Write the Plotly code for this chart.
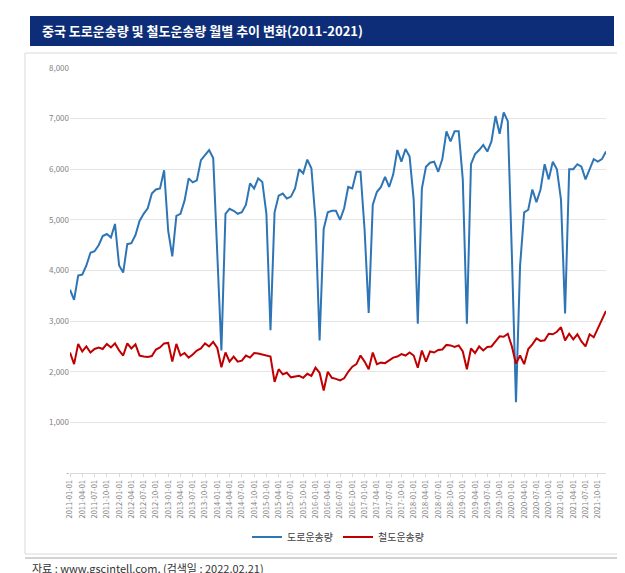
import plotly.graph_objects as go

months = [f"{y}-{m:02d}-01" for y in range(2011, 2022) for m in range(1, 13)]
road = [3620,3420,3900,3920,4100,4350,4380,4500,4680,4720,4650,4920,
        4100,3960,4520,4540,4700,4980,5120,5230,5520,5600,5620,5980,
        4780,4280,5080,5120,5380,5820,5740,5780,6180,6280,6380,6220,
        4400,2420,5120,5220,5180,5120,5150,5300,5720,5620,5820,5750,
        5120,2820,5150,5480,5520,5420,5460,5620,6000,5920,6190,6020,
        5000,2620,4820,5150,5180,5180,5000,5230,5650,5620,5950,5950,
        4800,3160,5300,5550,5650,5850,5650,5900,6380,6150,6400,6250,
        5400,2950,5620,6050,6130,6150,5950,6200,6750,6550,6750,6750,
        5800,2950,6100,6300,6380,6480,6350,6550,7050,6700,7120,6950,
        4300,1400,4100,5150,5200,5600,5350,5600,6100,5800,6150,6000,
        5400,3150,6000,6000,6100,6050,5800,6000,6200,6150,6200,6350]
rail = [2380,2150,2550,2400,2500,2380,2450,2480,2450,2550,2480,2560,
        2420,2320,2560,2460,2540,2320,2300,2290,2310,2440,2480,2560,
        2570,2200,2550,2320,2370,2280,2340,2420,2460,2560,2500,2590,
        2470,2090,2380,2200,2300,2200,2220,2320,2280,2370,2360,2340,
        2320,2300,1800,2050,1950,1980,1890,1900,1920,1880,1960,1920,
        2080,1980,1630,2000,1880,1860,1830,1870,2000,2100,2150,2320,
        2200,2050,2380,2150,2180,2170,2230,2280,2300,2350,2320,2380,
        2320,2080,2420,2200,2400,2380,2430,2440,2530,2520,2490,2520,
        2400,2050,2460,2370,2500,2420,2490,2500,2600,2700,2690,2750,
        2500,2160,2320,2150,2450,2540,2660,2610,2620,2750,2740,2790,
        2880,2620,2750,2640,2740,2600,2500,2740,2680,2850,3050,3200]
ytick_vals = [0,1000,2000,3000,4000,5000,6000,7000,8000]
ytick_text = ["-","1,000","2,000","3,000","4,000","5,000","6,000","7,000","8,000"]

L, R, T, B, W, H = 62, 27, 60, 108, 625, 573
pw, ph = W - L - R, H - T - B
def px(x): return (x - L) / pw
def py(y): return (H - B - y) / ph

fig = go.Figure()
fig.add_trace(go.Scatter(x=months, y=road, mode="lines", name="도로운송량",
                         line=dict(color="#2e75b6", width=2)))
fig.add_trace(go.Scatter(x=months, y=rail, mode="lines", name="철도운송량",
                         line=dict(color="#c00000", width=2)))
fig.update_layout(
    width=W, height=H, margin=dict(l=L, r=R, t=T, b=B, autoexpand=False),
    plot_bgcolor="white", paper_bgcolor="white",
    font=dict(family="Noto Sans CJK KR", color="#595959"),
    showlegend=True,
    legend=dict(orientation="h", x=0.5, xanchor="center", y=py(529), yanchor="middle",
                font=dict(size=10, color="#404040"), itemwidth=30, tracegroupgap=0),
    xaxis=dict(type="category", tickvals=months[::3], ticktext=months[::3], tickangle=-90,
               tickfont=dict(size=7.5, color="#7f7f7f"), showgrid=False, automargin=False,
               showline=True, linecolor="#d9d9d9", ticks="outside", tickcolor="#d9d9d9", ticklen=3),
    yaxis=dict(range=[0, 8000], tickvals=ytick_vals, ticktext=ytick_text, automargin=False,
               tickfont=dict(size=8, color="#7f7f7f"), gridcolor="#e5e5e5", zeroline=False),
    shapes=[
        dict(type="rect", xref="paper", yref="paper", x0=px(17), x1=px(610), y0=py(546), y1=py(45),
             line=dict(color="#d9d9d9", width=1), fillcolor="rgba(0,0,0,0)", layer="below"),
        dict(type="rect", xref="paper", yref="paper", x0=px(22), x1=px(606), y0=py(38), y1=py(8),
             line=dict(width=0), fillcolor="#0d2d78"),
        dict(type="line", xref="paper", yref="paper", x0=px(17), x1=px(610), y0=py(550), y1=py(550),
             line=dict(color="#a6a6a6", width=1)),
    ],
    annotations=[
        dict(text="<b>중국 도로운송량 및 철도운송량 월별 추이 변화(2011-2021)</b>", xref="paper", yref="paper",
             x=px(32), y=py(23), xanchor="left", yanchor="middle", showarrow=False,
             font=dict(size=13, color="white")),
        dict(text="자료 : www.gscintell.com, (검색일 : 2022.02.21)", xref="paper", yref="paper",
             x=px(22), y=py(560), xanchor="left", yanchor="middle", showarrow=False,
             font=dict(size=11, color="#333333")),
    ],
)
fig.write_html("out.html")
